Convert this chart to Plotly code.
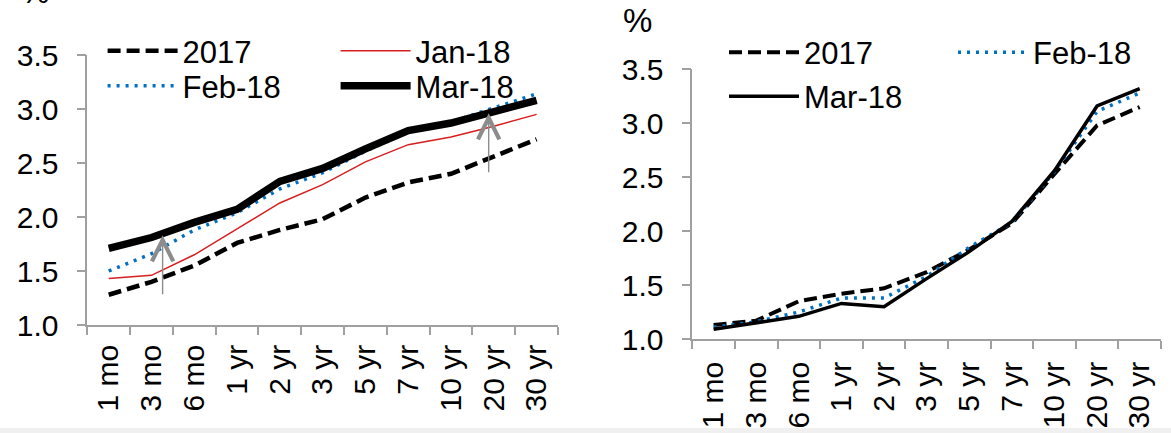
import plotly.graph_objects as go

# Treasury curve tenors (shared by both panels)
tenors = ["1 mo", "3 mo", "6 mo", "1 yr", "2 yr", "3 yr", "5 yr", "7 yr", "10 yr", "20 yr", "30 yr"]

# Left panel: yields, %
left_2017 = [1.28, 1.40, 1.55, 1.76, 1.88, 1.98, 2.18, 2.32, 2.40, 2.56, 2.72]
left_jan18 = [1.43, 1.46, 1.65, 1.89, 2.13, 2.30, 2.51, 2.67, 2.74, 2.84, 2.95]
left_feb18 = [1.50, 1.66, 1.88, 2.04, 2.26, 2.41, 2.61, 2.79, 2.88, 3.01, 3.14]
left_mar18 = [1.71, 1.81, 1.95, 2.07, 2.33, 2.45, 2.63, 2.80, 2.87, 2.98, 3.08]

# Right panel: yields, %
right_2017 = [1.13, 1.17, 1.35, 1.42, 1.47, 1.62, 1.83, 2.07, 2.53, 2.98, 3.15]
right_feb18 = [1.11, 1.16, 1.25, 1.38, 1.38, 1.58, 1.85, 2.08, 2.55, 3.11, 3.28]
right_mar18 = [1.09, 1.15, 1.21, 1.33, 1.30, 1.56, 1.81, 2.09, 2.56, 3.16, 3.32]

# Shift arrows on the left panel (category position, from level, to level)
arrow_pos = [1.26, 8.88]
arrow_from = [1.27, 2.40]
arrow_to = [1.83, 2.96]

y_ticks = [1.0, 1.5, 2.0, 2.5, 3.0, 3.5]

FONT = "Arial, 'Liberation Sans', sans-serif"
GREY = "#a0a0a0"
BLUE = "#0070c0"
RED = "#d81e1e"
W, H = 1171, 433

fig = go.Figure()


def add_line(y, name, xa, ya, legend, color, width, dash):
    fig.add_trace(go.Scatter(
        x=tenors, y=y, name=name, mode="lines",
        line=dict(color=color, width=width, dash=dash),
        xaxis=xa, yaxis=ya, legend=legend, hoverinfo="skip",
    ))


# left panel
add_line(left_2017, "2017", "x", "y", "legend", "black", 4.5, "13px,6px")
add_line(left_jan18, "Jan-18", "x", "y", "legend", RED, 1.5, "solid")
add_line(left_feb18, "Feb-18", "x", "y", "legend2", BLUE, 3.5, "3px,6px")
add_line(left_mar18, "Mar-18", "x", "y", "legend2", "black", 7.5, "solid")

# right panel
add_line(right_2017, "2017", "x2", "y2", "legend3", "black", 4, "13px,6px")
add_line(right_feb18, "Feb-18", "x2", "y2", "legend3", BLUE, 3.5, "3px,6px")
add_line(right_mar18, "Mar-18", "x2", "y2", "legend4", "black", 3.5, "solid")


def xaxis_style(domain, anchor, standoff):
    return dict(
        domain=domain, anchor=anchor, type="category", range=[-0.5, 10.5],
        tickson="boundaries", ticks="outside", ticklen=8, tickwidth=1.5,
        tickcolor=GREY, showline=True, linecolor=GREY, linewidth=1.5,
        showgrid=False, zeroline=False, tickangle=-90, automargin=False,
        tickfont=dict(size=30, color="black"), ticklabelstandoff=standoff,
        fixedrange=True,
    )


def yaxis_style(domain, anchor):
    return dict(
        domain=domain, anchor=anchor, range=[1, 3.5], tickvals=y_ticks,
        tickformat=".1f", ticks="outside", ticklen=9, tickwidth=1.5,
        tickcolor=GREY, showline=True, linecolor=GREY, linewidth=1.5,
        showgrid=False, zeroline=False, tickfont=dict(size=30, color="black"),
        ticklabelstandoff=12, fixedrange=True, automargin=False,
    )


def legend_style(x_px, y_px, entry):
    return dict(
        x=x_px / W, y=1 - y_px / H, xanchor="left", yanchor="middle",
        orientation="h", font=dict(size=31, color="black", family=FONT),
        itemwidth=70, entrywidth=entry, bgcolor="rgba(0,0,0,0)",
        borderwidth=0, itemclick=False, itemdoubleclick=False,
    )


fig.update_layout(
    template="none",
    width=W, height=H, margin=dict(l=0, r=0, t=0, b=0, autoexpand=False),
    paper_bgcolor="white", plot_bgcolor="white",
    font=dict(family=FONT, color="black"),
    showlegend=True,
    xaxis=xaxis_style([87.3 / W, 558 / W], "y", 6),
    yaxis=yaxis_style([1 - 325 / H, 1 - 55 / H], "x"),
    xaxis2=xaxis_style([692.3 / W, 1161 / W], "y2", 9),
    yaxis2=yaxis_style([1 - 339 / H, 1 - 69.3 / H], "x2"),
    legend=legend_style(102.6, 51, 148),
    legend2=legend_style(102.6, 86, 148),
    legend3=legend_style(724, 52.5, 144),
    legend4=legend_style(724, 96.5, 144),
)

for pos, lo, hi in zip(arrow_pos, arrow_from, arrow_to):
    fig.add_annotation(
        x=pos, y=hi, ax=pos, ay=lo, xref="x", yref="y", axref="x", ayref="y",
        text="", showarrow=True, arrowhead=5, arrowsize=3, arrowwidth=1.4,
        arrowcolor="#8c8c8c", standoff=0,
    )

# unit labels
fig.add_annotation(x=35 / W, y=1 - (-8) / H, xref="paper", yref="paper",
                   text="%", showarrow=False, font=dict(size=32, color="black"),
                   xanchor="center", yanchor="middle")
fig.add_annotation(x=637 / W, y=1 - 21 / H, xref="paper", yref="paper",
                   text="%", showarrow=False, font=dict(size=33, color="black"),
                   xanchor="center", yanchor="middle")

# light strip along the bottom edge
fig.add_shape(type="rect", xref="paper", yref="paper", x0=0, x1=1, y0=0,
              y1=5 / H, fillcolor="#f0f0f0", line=dict(width=0), layer="above")

fig.write_html("out.html")
